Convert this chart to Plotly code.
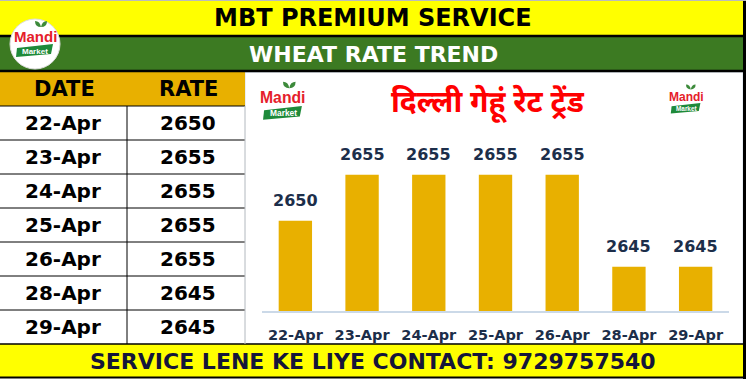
import plotly.graph_objects as go

# ---------------- data ----------------
dates = ["22-Apr", "23-Apr", "24-Apr", "25-Apr", "26-Apr", "28-Apr", "29-Apr"]
rates = [2650, 2655, 2655, 2655, 2655, 2645, 2645]
top_title = "MBT PREMIUM SERVICE"
sub_title = "WHEAT RATE TREND"
chart_title = "दिल्ली गेहूं रेट ट्रेंड"
footer = "SERVICE LENE KE LIYE CONTACT: 9729757540"
col_headers = ["DATE", "RATE"]

W, H = 746, 379
YELLOW = "#FFFF00"
GREEN = "#3C7A22"
GOLD = "#E8B000"
NAVY = "#1C2E4A"
FONT = "DejaVu Sans"


def X(p):
    return p / W


def Y(p):
    return 1 - p / H


shapes = []
annotations = []


def rect(x0, y0, x1, y1, fill, line_color=None, lw=0):
    shapes.append(dict(type="rect", xref="paper", yref="paper",
                       x0=X(x0), x1=X(x1), y0=Y(y1), y1=Y(y0),
                       fillcolor=fill, line=dict(width=lw, color=line_color or fill),
                       layer="below"))


def line(x0, y0, x1, y1, color="black", lw=1, layer="above"):
    shapes.append(dict(type="line", xref="paper", yref="paper",
                       x0=X(x0), x1=X(x1), y0=Y(y0), y1=Y(y1),
                       line=dict(width=lw, color=color), layer=layer))


def text(x, y, s, size, color="black", bold=True, family=FONT, **kw):
    annotations.append(dict(xref="paper", yref="paper", x=X(x), y=Y(y),
                            text=f"<b>{s}</b>" if bold else s, showarrow=False,
                            xanchor="center", yanchor="middle",
                            font=dict(size=size, color=color, family=family), **kw))


# ---------------- bands ----------------
rect(0, 0, 746, 36, YELLOW)
rect(0, 36, 746, 72, GREEN)
rect(245, 72, 743, 344, "white", "#D3DEEA", 1)
rect(0, 344, 746, 378, YELLOW)
rect(0, 72, 245, 106, GOLD)

line(0, 36, 746, 36, lw=2.5)
line(0, 71, 746, 71, lw=2.5)
line(0, 344, 746, 344, lw=1.5)
line(0, 377.5, 746, 377.5, lw=2)
line(744.5, 0, 744.5, 379, lw=3)
line(0, 0.5, 746, 0.5, color="#BBBBBB", lw=1)

text(373, 18.5, top_title, 24)
text(373, 54, sub_title, 22, color="white")
text(373, 361, footer, 22, color="#15153A")

# ---------------- table ----------------
text(64, 89, col_headers[0], 21)
text(188, 89, col_headers[1], 21)
row_h = 34
top = 106
for i, (d, r) in enumerate(zip(dates, rates)):
    y0 = top + i * row_h
    line(0, y0, 245, y0, lw=1)
    text(63, y0 + row_h / 2, d, 20)
    text(188, y0 + row_h / 2, str(r), 20)
line(127, 106, 127, 344, lw=1)
line(245, 106, 245, 344, color="#C8C8C8", lw=1)


# ---------------- logos ----------------
def logo(cx, cy, scale, circle=False):
    if circle:
        r = 25 * scale
        shapes.append(dict(type="circle", xref="paper", yref="paper",
                           x0=X(cx - r), x1=X(cx + r), y0=Y(cy + r), y1=Y(cy - r),
                           fillcolor="white", line=dict(width=1, color="#DDDDDD"),
                           layer="above"))
    # leaves
    lx, ly = cx + 6 * scale, cy - 17 * scale
    for sgn in (-1, 1):
        tipx = lx + sgn * 6 * scale
        tipy = ly - 6 * scale
        path = (f"M {X(lx)},{Y(ly)} Q {X(lx + sgn * 1 * scale)},{Y(tipy)} {X(tipx)},{Y(tipy)} "
                f"Q {X(tipx)},{Y(ly)} {X(lx)},{Y(ly)} Z")
        shapes.append(dict(type="path", xref="paper", yref="paper", path=path,
                           fillcolor="#3C8A3A", line=dict(width=0), layer="above"))
    # ribbon
    x0, x1 = cx - 18 * scale, cx + 18 * scale
    y0, y1 = cy + 2 * scale, cy + 12 * scale
    path = (f"M {X(x0)},{Y(y0 + 2 * scale)} L {X(x1)},{Y(y0 - 2 * scale)} "
            f"L {X(x1 - 2 * scale)},{Y(y1 - 2 * scale)} L {X(x0 - 1 * scale)},{Y(y1 + 1 * scale)} Z")
    shapes.append(dict(type="path", xref="paper", yref="paper", path=path,
                       fillcolor="#1E8A3A", line=dict(width=0), layer="above"))
    text(cx, cy - 8 * scale, "Mandi", 15 * scale, color="#E5202A", family="Liberation Sans")
    text(cx, cy + 7 * scale, "Market", 8 * scale, color="white", family="Liberation Sans")


logo(35, 44, 1.0, circle=True)
logo(283, 106, 1.05)
logo(686, 103, 0.8)

# chart title (Hindi)
text(488, 104, chart_title, 30, color="#FF0000",
     family="Noto Sans Devanagari, Noto Sans, Lohit Devanagari, sans-serif")

# ---------------- bar chart ----------------
base_val = 2640.2
px_per_unit = 9.2
plot_top, plot_bottom = 130, 311
fig = go.Figure(go.Bar(x=dates, y=rates, marker=dict(color=GOLD, line=dict(width=0)),
                       hoverinfo="skip"))

for d, r in zip(dates, rates):
    annotations.append(dict(x=d, y=r, xref="x", yref="y", text=f"<b>{r}</b>",
                            showarrow=False, yanchor="bottom", yshift=9,
                            font=dict(size=16, color=NAVY, family=FONT)))

fig.update_layout(
    width=W, height=H, margin=dict(l=0, r=0, t=0, b=0),
    paper_bgcolor="white", plot_bgcolor="rgba(0,0,0,0)",
    showlegend=False, bargap=0.5,
    shapes=shapes, annotations=annotations,
    xaxis=dict(domain=[X(262), X(729)], showline=True, linecolor="#CBD9E8", linewidth=2,
               showgrid=False, ticks="", ticklabelstandoff=10,
               tickfont=dict(size=14.5, color=NAVY, family=FONT, weight="bold"),
               fixedrange=True),
    yaxis=dict(domain=[Y(plot_bottom), Y(plot_top)],
               range=[base_val, base_val + (plot_bottom - plot_top) / px_per_unit],
               visible=False, showgrid=False, zeroline=False, fixedrange=True),
)

fig.write_html("out.html", config={"displayModeBar": False},
               post_script="document.body.style.margin='0px';document.body.style.overflow='hidden';")
